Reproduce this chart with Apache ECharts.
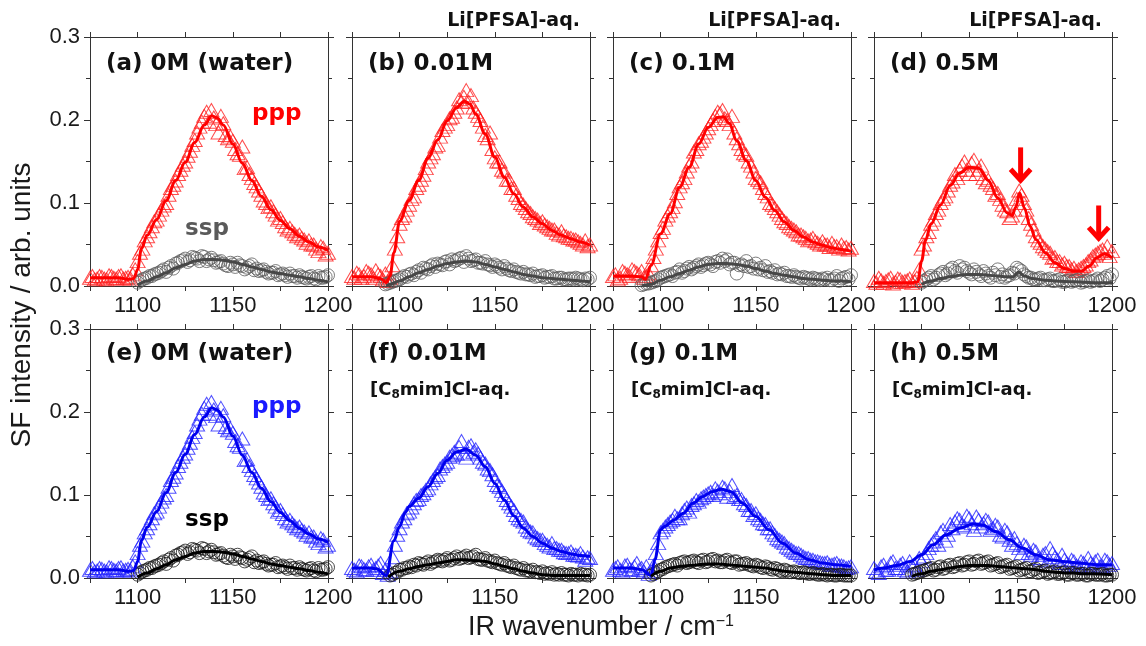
<!DOCTYPE html>
<html><head><meta charset="utf-8">
<script src="https://cdn.jsdelivr.net/npm/echarts@6/dist/echarts.min.js"></script>
<style>html,body{margin:0;padding:0;background:#fff}#c{width:1146px;height:646px}</style>
</head><body><div id="c"></div>
<script>
// ---- data ----
const wavenumber = [1075,1077.5,1080,1082.5,1085,1087.5,1090,1092.5,1095,1097.5,
 1100,1102.5,1105,1107.5,1110,1112.5,1115,1117.5,1120,1122.5,
 1125,1127.5,1130,1132.5,1135,1137.5,1140,1142.5,1145,1147.5,
 1150,1152.5,1155,1157.5,1160,1162.5,1165,1167.5,1170,1172.5,
 1175,1177.5,1180,1182.5,1185,1187.5,1190,1192.5,1195,1197.5,1200];
// second scan, interleaved grid
const wavenumber2 = [1076.25,1078.75,1081.25,1083.75,1086.25,1088.75,1091.25,1093.75,1096.25,1098.75,
 1101.25,1103.75,1106.25,1108.75,1111.25,1113.75,1116.25,1118.75,1121.25,1123.75,
 1126.25,1128.75,1131.25,1133.75,1136.25,1138.75,1141.25,1143.75,1146.25,1148.75,
 1151.25,1153.75,1156.25,1158.75,1161.25,1163.75,1166.25,1168.75,1171.25,1173.75,
 1176.25,1178.75,1181.25,1183.75,1186.25,1188.75,1191.25,1193.75,1196.25,1198.75];

const xTickLabels = [1100, 1150, 1200];
const yTickLabels = [0, 0.1, 0.2, 0.3];

// (a)/(e) water
const waterPpp = [.010,.008,.012,.009,.013,.010,.012,.009,.011,.014,
 .030,.045,.060,.072,.080,.092,.100,.118,.127,.140,
 .150,.163,.176,.192,.205,.198,.203,.185,.196,.178,
 .175,.160,.168,.143,.130,.120,.110,.100,.096,.086,
 .082,.072,.070,.063,.062,.056,.055,.050,.042,.046,.040];
const waterPpp2 = [.012,.009,.011,.008,.012,.009,.013,.010,.009,.020,
 .040,.055,.066,.078,.086,.097,.110,.122,.135,.146,
 .157,.170,.185,.198,.210,.212,.195,.205,.182,.180,
 .165,.158,.142,.135,.124,.115,.103,.095,.090,.080,
 .077,.068,.066,.060,.058,.052,.050,.045,.048,.038];
const waterSsp = [null,null,null,null,null,null,null,null,null,null,
 .004,.008,.010,.012,.015,.018,.017,.024,.027,.030,
 .033,.031,.034,.030,.035,.032,.031,.029,.027,.024,
 .026,.028,.024,.022,.026,.021,.019,.017,.016,.018,
 .014,.013,.015,.012,.013,.010,.011,.009,.012,.010,.013];
const waterSsp2 = [null,null,null,null,null,null,null,null,null,null,
 .006,.009,.012,.014,.016,.020,.022,.021,.028,.031,
 .029,.035,.033,.036,.030,.034,.028,.030,.025,.028,
 .023,.025,.020,.024,.019,.018,.020,.015,.016,.013,
 .015,.011,.012,.010,.011,.009,.012,.008,.010,.011];
const waterPppFit = [[1075,.010],[1080,.010],[1085,.010],[1090,.010],[1095,.008],[1098,.009],[1100,.020],[1102,.045],[1105,.061],[1110,.080],[1115,.103],[1120,.127],[1125,.149],[1130,.173],[1135,.194],[1139,.205],[1142,.202],[1145,.194],[1150,.171],[1155,.148],[1160,.127],[1165,.108],[1170,.092],[1175,.079],[1180,.069],[1185,.060],[1190,.053],[1195,.047],[1200,.043]];
const waterSspFit = [[1100,.001],[1105,.006],[1110,.011],[1115,.016],[1120,.022],[1125,.026],[1130,.030],[1135,.032],[1140,.032],[1145,.031],[1150,.029],[1155,.026],[1160,.023],[1165,.020],[1170,.017],[1175,.015],[1180,.013],[1185,.011],[1190,.009],[1195,.007],[1200,.005]];

// (b) 0.01M Li[PFSA]
const pfsa001Ppp = [.012,.016,.010,.018,.014,.019,.012,.015,.010,.045,
 .075,.085,.098,.108,.122,.134,.150,.160,.170,.188,
 .195,.204,.215,.222,.236,.230,.210,.200,.182,.185,
 .155,.150,.138,.128,.118,.106,.098,.090,.084,.080,
 .078,.072,.068,.064,.066,.060,.058,.056,.052,.055,.050];
const pfsa001Ppp2 = [.010,.014,.012,.016,.010,.014,.008,.006,.025,.060,
 .082,.092,.105,.118,.128,.142,.155,.168,.180,.192,
 .202,.210,.225,.228,.222,.215,.205,.192,.178,.165,
 .150,.140,.128,.118,.110,.100,.094,.088,.082,.076,
 .074,.070,.068,.062,.061,.058,.056,.054,.050,.048];
const pfsa001Ssp = [null,null,null,null,null,null,null,.002,.004,.006,
 .008,.012,.014,.013,.019,.022,.020,.026,.027,.025,
 .030,.032,.031,.034,.036,.030,.032,.028,.030,.025,
 .026,.022,.024,.019,.020,.016,.017,.014,.015,.012,
 .013,.011,.012,.009,.010,.008,.009,.010,.008,.009,.010];
const pfsa001Ssp2 = [null,null,null,null,null,null,null,.003,.005,.007,
 .010,.011,.015,.017,.016,.021,.024,.023,.026,.029,
 .026,.030,.033,.029,.033,.031,.028,.027,.026,.023,
 .024,.020,.021,.018,.017,.015,.014,.013,.011,.012,
 .010,.011,.009,.010,.008,.009,.008,.009,.007,.008];
const pfsa001PppFit = [[1075,.011],[1080,.011],[1085,.011],[1090,.009],[1093,.004],[1095,.012],[1097,.040],[1100,.078],[1105,.103],[1110,.127],[1115,.154],[1120,.176],[1125,.199],[1130,.215],[1134,.223],[1137,.219],[1140,.207],[1145,.183],[1150,.155],[1155,.131],[1160,.111],[1165,.095],[1170,.083],[1175,.075],[1180,.067],[1185,.061],[1190,.057],[1195,.053],[1200,.049]];
const pfsa001SspFit = [[1093,.000],[1095,.002],[1100,.006],[1105,.011],[1110,.016],[1115,.020],[1120,.024],[1125,.027],[1130,.029],[1135,.030],[1140,.029],[1145,.026],[1150,.023],[1155,.020],[1160,.017],[1165,.014],[1170,.012],[1175,.010],[1180,.009],[1185,.008],[1190,.007],[1195,.006],[1200,.005]];

// (c) 0.1M Li[PFSA]
const pfsa01Ppp = [.012,.008,.018,.014,.020,.016,.018,.012,.025,.045,
 .065,.080,.090,.102,.120,.130,.145,.162,.172,.180,
 .190,.200,.210,.212,.200,.205,.178,.165,.158,.145,
 .130,.125,.112,.100,.094,.086,.078,.072,.068,.062,
 .060,.055,.058,.052,.054,.050,.052,.048,.050,.047,.046];
const pfsa01Ppp2 = [.014,.010,.016,.012,.018,.014,.010,.015,.035,.055,
 .070,.085,.095,.112,.125,.138,.150,.165,.175,.185,
 .195,.205,.208,.202,.195,.185,.172,.160,.150,.138,
 .128,.118,.108,.098,.090,.082,.076,.070,.066,.062,
 .058,.056,.054,.050,.050,.047,.048,.045,.046,.044];
const pfsa01Ssp = [null,null,null,null,null,null,.001,.003,.004,.006,
 .010,.012,.014,.016,.020,.018,.023,.022,.026,.025,
 .028,.024,.030,.033,.032,.028,.015,.026,.030,.024,
 .027,.022,.024,.018,.019,.015,.016,.012,.013,.010,
 .011,.009,.010,.008,.009,.010,.007,.012,.009,.011,.013];
const pfsa01Ssp2 = [null,null,null,null,null,null,.002,.003,.005,.008,
 .011,.013,.012,.017,.016,.021,.020,.024,.023,.027,
 .026,.029,.028,.030,.026,.028,.025,.024,.023,.021,
 .020,.019,.017,.016,.014,.014,.012,.011,.011,.009,
 .010,.008,.009,.007,.008,.007,.009,.006,.010,.008];
const pfsa01PppFit = [[1075,.012],[1080,.012],[1085,.012],[1090,.011],[1092,.008],[1095,.025],[1100,.063],[1105,.087],[1110,.119],[1115,.143],[1120,.171],[1125,.191],[1130,.203],[1133,.204],[1136,.196],[1140,.175],[1145,.151],[1150,.127],[1155,.107],[1160,.091],[1165,.077],[1170,.067],[1175,.059],[1180,.053],[1185,.049],[1190,.046],[1195,.044],[1200,.042]];
const pfsa01SspFit = [[1090,.000],[1095,.002],[1100,.007],[1105,.011],[1110,.015],[1115,.019],[1120,.023],[1125,.026],[1130,.027],[1135,.027],[1140,.026],[1145,.024],[1150,.021],[1155,.018],[1160,.015],[1165,.013],[1170,.011],[1175,.009],[1180,.008],[1185,.007],[1190,.006],[1195,.006],[1200,.005]];

// (d) 0.5M Li[PFSA]
const pfsa05Ppp = [.006,.010,.004,.008,.003,.009,.005,.007,.004,.010,
 .045,.060,.075,.088,.100,.108,.122,.135,.140,.150,
 .135,.152,.140,.130,.128,.118,.112,.098,.090,.085,
 .105,.110,.092,.075,.060,.052,.045,.040,.035,.030,
 .028,.024,.022,.020,.024,.030,.036,.040,.044,.048,.042];
const pfsa05Ppp2 = [.004,.007,.006,.010,.005,.008,.006,.009,.006,.020,
 .050,.065,.080,.092,.105,.115,.126,.130,.145,.140,
 .148,.135,.145,.125,.122,.110,.105,.092,.082,.092,
 .115,.100,.082,.068,.055,.048,.042,.034,.030,.026,
 .024,.020,.018,.022,.026,.032,.038,.042,.040,.036];
const pfsa05Ssp = [null,null,null,null,null,null,null,null,null,null,
 .004,.008,.012,.010,.015,.013,.020,.018,.024,.022,
 .016,.020,.014,.018,.012,.016,.020,.014,.012,.016,
 .022,.018,.012,.010,.008,.010,.007,.009,.006,.008,
 .005,.007,.006,.008,.005,.007,.006,.009,.008,.012,.014];
const pfsa05Ssp2 = [null,null,null,null,null,null,null,null,null,null,
 .006,.010,.008,.013,.017,.015,.022,.016,.020,.018,
 .014,.017,.012,.015,.010,.013,.011,.010,.013,.015,
 .020,.014,.010,.008,.009,.007,.008,.006,.007,.005,
 .006,.005,.007,.004,.006,.005,.007,.006,.010,.009];
const pfsa05PppFit = [[1075,.004],[1080,.004],[1085,.004],[1090,.004],[1095,.004],[1098,.005],[1100,.030],[1102,.055],[1105,.075],[1110,.098],[1115,.121],[1120,.136],[1125,.143],[1130,.142],[1135,.127],[1140,.106],[1145,.088],[1147.5,.085],[1149.5,.095],[1151.5,.112],[1154,.094],[1157,.072],[1160,.056],[1165,.040],[1170,.028],[1175,.021],[1180,.018],[1184,.018],[1188,.024],[1192,.034],[1196,.039],[1200,.034]];
const pfsa05SspFit = [[1100,.002],[1105,.006],[1110,.009],[1115,.011],[1120,.013],[1125,.014],[1130,.014],[1135,.013],[1140,.012],[1145,.011],[1148,.011],[1151,.017],[1154,.012],[1158,.009],[1165,.007],[1170,.006],[1180,.005],[1190,.004],[1200,.004]];
const arrowMarks = [[1152, 0.167, 0.125], [1193, 0.097, 0.055]];

// (f) 0.01M [C8mim]Cl
const c8001Ppp = [.012,.008,.014,.010,.016,.012,.018,.010,.008,.040,
 .060,.072,.080,.090,.095,.102,.108,.118,.124,.135,
 .140,.148,.150,.165,.145,.160,.155,.145,.138,.130,
 .118,.110,.100,.090,.082,.072,.068,.058,.055,.048,
 .046,.040,.042,.036,.034,.030,.032,.028,.030,.022,.024];
const c8001Ppp2 = [.010,.015,.011,.014,.010,.015,.006,.004,.025,.052,
 .068,.078,.085,.094,.100,.106,.114,.122,.132,.138,
 .146,.152,.158,.150,.158,.152,.150,.140,.132,.125,
 .112,.105,.094,.086,.076,.070,.062,.056,.050,.046,
 .042,.038,.036,.034,.031,.030,.028,.027,.026,.025];
const c8001Ssp = [null,null,null,null,null,null,null,null,.003,.006,
 .010,.012,.014,.016,.018,.016,.020,.019,.022,.020,
 .024,.022,.026,.024,.027,.025,.028,.022,.024,.020,
 .021,.017,.018,.014,.015,.011,.012,.009,.010,.007,
 .008,.006,.007,.005,.006,.004,.005,.004,.005,.004,.004];
const c8001Ssp2 = [null,null,null,null,null,null,null,null,.004,.007,
 .010,.012,.013,.015,.017,.018,.017,.020,.021,.022,
 .021,.024,.023,.025,.024,.026,.023,.022,.021,.019,
 .018,.016,.015,.013,.012,.010,.009,.008,.007,.006,
 .005,.005,.004,.004,.004,.003,.004,.003,.004,.003];
const c8001PppFit = [[1075,.012],[1080,.012],[1085,.012],[1088,.011],[1093,.003],[1097,.045],[1100,.062],[1103,.079],[1105,.086],[1110,.096],[1115,.110],[1120,.126],[1125,.142],[1130,.152],[1135,.155],[1140,.148],[1145,.134],[1150,.114],[1155,.094],[1160,.075],[1165,.060],[1170,.050],[1175,.042],[1180,.036],[1185,.032],[1190,.029],[1195,.027],[1200,.026]];
const c8001SspFit = [[1094,.001],[1100,.008],[1105,.011],[1110,.014],[1115,.016],[1120,.018],[1125,.020],[1130,.022],[1135,.022],[1140,.021],[1145,.020],[1150,.017],[1155,.014],[1160,.011],[1165,.008],[1170,.006],[1175,.004],[1180,.003],[1190,.003],[1200,.003]];

// (g) 0.1M [C8mim]Cl
const c801Ppp = [.010,.014,.008,.016,.010,.018,.012,.014,.008,.030,
 .055,.062,.068,.075,.072,.082,.080,.090,.092,.098,
 .102,.100,.105,.110,.098,.112,.100,.095,.088,.082,
 .078,.070,.065,.060,.052,.046,.042,.036,.032,.030,
 .026,.024,.022,.020,.018,.019,.016,.018,.015,.012,.014];
const c801Ppp2 = [.012,.010,.015,.011,.014,.010,.008,.005,.015,.042,
 .058,.065,.070,.072,.078,.085,.088,.094,.096,.100,
 .104,.108,.102,.108,.105,.098,.095,.090,.082,.076,
 .072,.066,.060,.055,.048,.044,.038,.034,.030,.028,
 .024,.022,.020,.019,.018,.016,.017,.015,.014,.013];
const c801Ssp = [null,null,null,null,null,null,null,null,.003,.006,
 .010,.013,.015,.017,.018,.020,.019,.021,.018,.022,
 .020,.023,.021,.019,.022,.018,.020,.017,.018,.015,
 .016,.013,.014,.011,.012,.009,.010,.007,.008,.006,
 .007,.005,.006,.004,.005,.003,.004,.003,.004,.003,.003];
const c801Ssp2 = [null,null,null,null,null,null,null,null,.005,.008,
 .011,.014,.016,.015,.019,.018,.020,.019,.021,.019,
 .022,.020,.019,.021,.019,.020,.016,.017,.016,.014,
 .015,.012,.013,.010,.011,.008,.009,.007,.007,.006,
 .006,.005,.005,.004,.004,.004,.003,.004,.003,.003];
const c801PppFit = [[1075,.012],[1080,.012],[1085,.012],[1090,.010],[1095,.003],[1097,.022],[1100,.058],[1102,.062],[1107,.070],[1112,.078],[1117,.090],[1122,.098],[1127,.104],[1132,.107],[1137,.104],[1143,.090],[1150,.074],[1157,.058],[1164,.042],[1171,.030],[1178,.022],[1185,.018],[1192,.016],[1200,.014]];
const c801SspFit = [[1095,.002],[1100,.008],[1105,.012],[1110,.014],[1115,.015],[1120,.016],[1125,.017],[1130,.017],[1135,.016],[1140,.015],[1145,.014],[1150,.013],[1155,.012],[1160,.010],[1165,.008],[1170,.007],[1175,.006],[1180,.005],[1185,.004],[1190,.003],[1200,.003]];

// (h) 0.5M [C8mim]Cl
const c805Ppp = [.012,.006,.016,.010,.020,.012,.018,.008,.014,.010,
 .020,.030,.040,.048,.055,.045,.065,.068,.070,.062,
 .072,.058,.070,.066,.068,.060,.062,.050,.055,.040,
 .042,.030,.038,.028,.032,.022,.030,.036,.025,.018,
 .022,.016,.020,.014,.018,.024,.016,.022,.014,.020,.018];
const c805Ppp2 = [.008,.014,.010,.018,.012,.016,.010,.020,.016,.024,
 .026,.036,.044,.040,.058,.052,.060,.072,.064,.075,
 .066,.074,.062,.070,.058,.064,.052,.058,.046,.048,
 .036,.040,.030,.034,.024,.028,.020,.030,.022,.028,
 .018,.022,.015,.020,.014,.018,.020,.014,.022,.016];
const c805Ssp = [null,null,null,null,null,null,null,null,.004,.006,
 .008,.010,.012,.010,.014,.012,.016,.014,.018,.016,
 .020,.017,.021,.018,.020,.016,.018,.014,.016,.012,
 .014,.010,.012,.008,.011,.007,.009,.006,.008,.005,
 .007,.004,.006,.004,.005,.003,.005,.004,.005,.003,.004];
const c805Ssp2 = [null,null,null,null,null,null,null,null,.005,.007,
 .009,.011,.009,.013,.011,.015,.013,.017,.015,.019,
 .016,.020,.017,.019,.015,.017,.013,.015,.011,.013,
 .009,.011,.008,.010,.006,.008,.005,.007,.005,.006,
 .004,.006,.004,.005,.003,.005,.004,.004,.003,.004];
const c805PppFit = [[1075,.010],[1080,.012],[1087,.015],[1094,.020],[1100,.028],[1106,.040],[1113,.052],[1120,.060],[1127,.065],[1132,.064],[1139,.056],[1146,.046],[1153,.036],[1160,.028],[1167,.022],[1174,.020],[1183,.018],[1192,.016],[1200,.016]];
const c805SspFit = [[1095,.002],[1100,.005],[1105,.008],[1110,.010],[1115,.012],[1120,.014],[1125,.015],[1130,.015],[1135,.015],[1140,.014],[1145,.013],[1150,.012],[1155,.011],[1160,.010],[1165,.008],[1170,.007],[1175,.006],[1180,.006],[1185,.005],[1190,.005],[1200,.004]];

// ---- layout / styling ----
const colLeft = [90, 352, 613, 874], rowTop = [37, 329], PW = 238, PH = 249;
const TITLE_FONT = 'DejaVu Sans';
const AX_FONT = 'Liberation Sans';
const schemes = {
  red:  {tri:'#ff2020', fit:'#ff0000', circ:'#5c5c5c', sfit:'#474747'},
  blue: {tri:'#2626ff', fit:'#0000ee', circ:'#1a1a1a', sfit:'#000000'}
};
const panels = [
  {t:'(a) 0M (water)', ppp:[waterPpp,waterPpp2], pf:waterPppFit, ssp:[waterSsp,waterSsp2], sf:waterSspFit, s:'red'},
  {t:'(b) 0.01M', ppp:[pfsa001Ppp,pfsa001Ppp2], pf:pfsa001PppFit, ssp:[pfsa001Ssp,pfsa001Ssp2], sf:pfsa001SspFit, s:'red', top:'Li[PFSA]-aq.'},
  {t:'(c) 0.1M', ppp:[pfsa01Ppp,pfsa01Ppp2], pf:pfsa01PppFit, ssp:[pfsa01Ssp,pfsa01Ssp2], sf:pfsa01SspFit, s:'red', top:'Li[PFSA]-aq.'},
  {t:'(d) 0.5M', ppp:[pfsa05Ppp,pfsa05Ppp2], pf:pfsa05PppFit, ssp:[pfsa05Ssp,pfsa05Ssp2], sf:pfsa05SspFit, s:'red', top:'Li[PFSA]-aq.', arrows:arrowMarks},
  {t:'(e) 0M (water)', ppp:[waterPpp,waterPpp2], pf:waterPppFit, ssp:[waterSsp,waterSsp2], sf:waterSspFit, s:'blue'},
  {t:'(f) 0.01M', ppp:[c8001Ppp,c8001Ppp2], pf:c8001PppFit, ssp:[c8001Ssp,c8001Ssp2], sf:c8001SspFit, s:'blue', sub:true},
  {t:'(g) 0.1M', ppp:[c801Ppp,c801Ppp2], pf:c801PppFit, ssp:[c801Ssp,c801Ssp2], sf:c801SspFit, s:'blue', sub:true},
  {t:'(h) 0.5M', ppp:[c805Ppp,c805Ppp2], pf:c805PppFit, ssp:[c805Ssp,c805Ssp2], sf:c805SspFit, s:'blue', sub:true}
];
const grids_x = [wavenumber, wavenumber2];

const axisColor = '#333';
const grids = [], xAxes = [], yAxes = [], series = [], titles = [];
const boldTitle = (sz) => ({fontFamily:TITLE_FONT, fontWeight:'bold', fontSize:sz, color:'#111', lineHeight:sz+3});

panels.forEach((p, i) => {
  const row = Math.floor(i/4), col = i % 4;
  const L = colLeft[col], T = rowTop[row];
  grids.push({left:L, top:T, width:PW, height:PH, containLabel:false});
  const xBase = {gridIndex:i, type:'value', min:1075, max:1200, interval:25,
    axisLine:{show:true, onZero:false, lineStyle:{color:axisColor, width:1}},
    axisTick:{show:true, inside:false, length:5, lineStyle:{color:axisColor}},
    splitLine:{show:false}};
  xAxes.push(Object.assign({}, xBase, {position:'bottom',
    axisLabel:{show:true, margin:9, fontSize:22, fontFamily:AX_FONT, color:'#1a1a1a',
      formatter: v => xTickLabels.indexOf(v) >= 0 ? String(v) : ''}}));
  xAxes.push(Object.assign({}, xBase, {position:'top', axisLabel:{show:false}}));
  const yBase = {gridIndex:i, type:'value', min:0, max:0.3, interval:0.1,
    axisLine:{show:true, onZero:false, lineStyle:{color:axisColor, width:1}},
    axisTick:{show:true, inside:false, length:6, lineStyle:{color:axisColor}},
    minorTick:{show:true, splitNumber:2, length:4, lineStyle:{color:axisColor}},
    splitLine:{show:false}, minorSplitLine:{show:false}};
  yAxes.push(Object.assign({}, yBase, {position:'left',
    axisLabel:{show: col === 0, margin:10, fontSize:22, fontFamily:AX_FONT, color:'#1a1a1a',
      formatter: v => { const k = yTickLabels.findIndex(t => Math.abs(t - v) < 1e-9); return k >= 0 ? yTickLabels[k].toFixed(1) : ''; }}}));
  yAxes.push(Object.assign({}, yBase, {position:'right', axisLabel:{show:false}}));

  const sc = schemes[p.s];
  const xi = 2*i, yi = 2*i;
  const toPts = (xs, arr) => xs.map((w, k) => arr[k] == null ? null : [w, arr[k]]).filter(d => d);
  p.ppp.forEach((arr, j) => {
    series.push({type:'scatter', xAxisIndex:xi, yAxisIndex:yi, data:toPts(grids_x[j], arr), symbol:'triangle',
      symbolSize:[15,13], itemStyle:{color:'rgba(0,0,0,0)', borderColor:sc.tri, borderWidth:1, opacity:0.8},
      silent:true, z:2, clip:true});
  });
  p.ssp.forEach((arr, j) => {
    series.push({type:'scatter', xAxisIndex:xi, yAxisIndex:yi, data:toPts(grids_x[j], arr), symbol:'circle',
      symbolSize:13, itemStyle:{color:'rgba(0,0,0,0)', borderColor:sc.circ, borderWidth:1, opacity:0.8},
      silent:true, z:2, clip:true});
  });
  series.push({type:'line', xAxisIndex:xi, yAxisIndex:yi, data:p.pf, showSymbol:false, symbol:'none',
    smooth:0.35, smoothMonotone:'x', lineStyle:{color:sc.fit, width:3}, silent:true, z:4});
  series.push({type:'line', xAxisIndex:xi, yAxisIndex:yi, data:p.sf, showSymbol:false, symbol:'none',
    smooth:0.35, smoothMonotone:'x', lineStyle:{color:sc.sfit, width:3}, silent:true, z:4});
  if (p.arrows) {
    series.push({type:'custom', xAxisIndex:xi, yAxisIndex:yi, data:p.arrows, silent:true, z:6,
      renderItem: (params, api) => {
        const a = api.coord([api.value(0), api.value(1)]);
        const b = api.coord([api.value(0), api.value(2)]);
        const st = {stroke:'#ff0000', lineWidth:5, fill:null, lineJoin:'miter', lineCap:'butt'};
        return {type:'group', children:[
          {type:'line', shape:{x1:a[0], y1:a[1], x2:b[0], y2:b[1]-3}, style:st},
          {type:'polyline', shape:{points:[[b[0]-10, b[1]-13],[b[0], b[1]-2],[b[0]+10, b[1]-13]]}, style:st}
        ]};
      }});
  }

  // panel texts
  titles.push({text:p.t, left:L+16, top: row === 0 ? 51 : 341, padding:0, textStyle:boldTitle(23)});
  if (p.top) {
    titles.push({text:p.top, right:1146-(L+PW)+10, top:10, padding:0, textStyle:boldTitle(19)});
  }
  if (p.sub) {
    titles.push({text:'[C{sub|8}mim]Cl-aq.', left:L+18, top:379, padding:0,
      textStyle:Object.assign(boldTitle(18), {lineHeight:22,
        rich:{sub:{fontFamily:TITLE_FONT, fontWeight:'bold', fontSize:12, color:'#111', lineHeight:12, verticalAlign:'bottom'}}})});
  }
});

// polarization labels
titles.push({text:'ppp', left:252, top:101, padding:0, textStyle:Object.assign(boldTitle(23), {color:'#ff0000'})});
titles.push({text:'ssp', left:185, top:216, padding:0, textStyle:Object.assign(boldTitle(23), {color:'#5a5a5a'})});
titles.push({text:'ppp', left:252, top:394, padding:0, textStyle:Object.assign(boldTitle(23), {color:'#1a1aff'})});
titles.push({text:'ssp', left:185, top:507, padding:0, textStyle:Object.assign(boldTitle(23), {color:'#000'})});

const chart = echarts.init(document.getElementById('c'), null, {renderer:'canvas'});
chart.setOption({
  animation:false,
  backgroundColor:'#fff',
  grid:grids, xAxis:xAxes, yAxis:yAxes, series:series, title:titles,
  graphic:[
    {type:'text', x:22, y:305, rotation:Math.PI/2, silent:true,
      style:{text:'SF intensity / arb. units', fontSize:28, fontFamily:AX_FONT, fill:'#1a1a1a',
        align:'center', verticalAlign:'middle', textAlign:'center', textVerticalAlign:'middle'}},
    {type:'text', x:601, y:628, silent:true,
      style:{text:'IR wavenumber / cm{sup|\u22121}', fontSize:27, fontFamily:AX_FONT, fill:'#1a1a1a', lineHeight:28,
        align:'center', verticalAlign:'middle', textAlign:'center', textVerticalAlign:'middle',
        rich:{sup:{fontSize:16, fontFamily:AX_FONT, fill:'#1a1a1a', lineHeight:16, verticalAlign:'top'}}}}
  ]
});
</script>
</body></html>
